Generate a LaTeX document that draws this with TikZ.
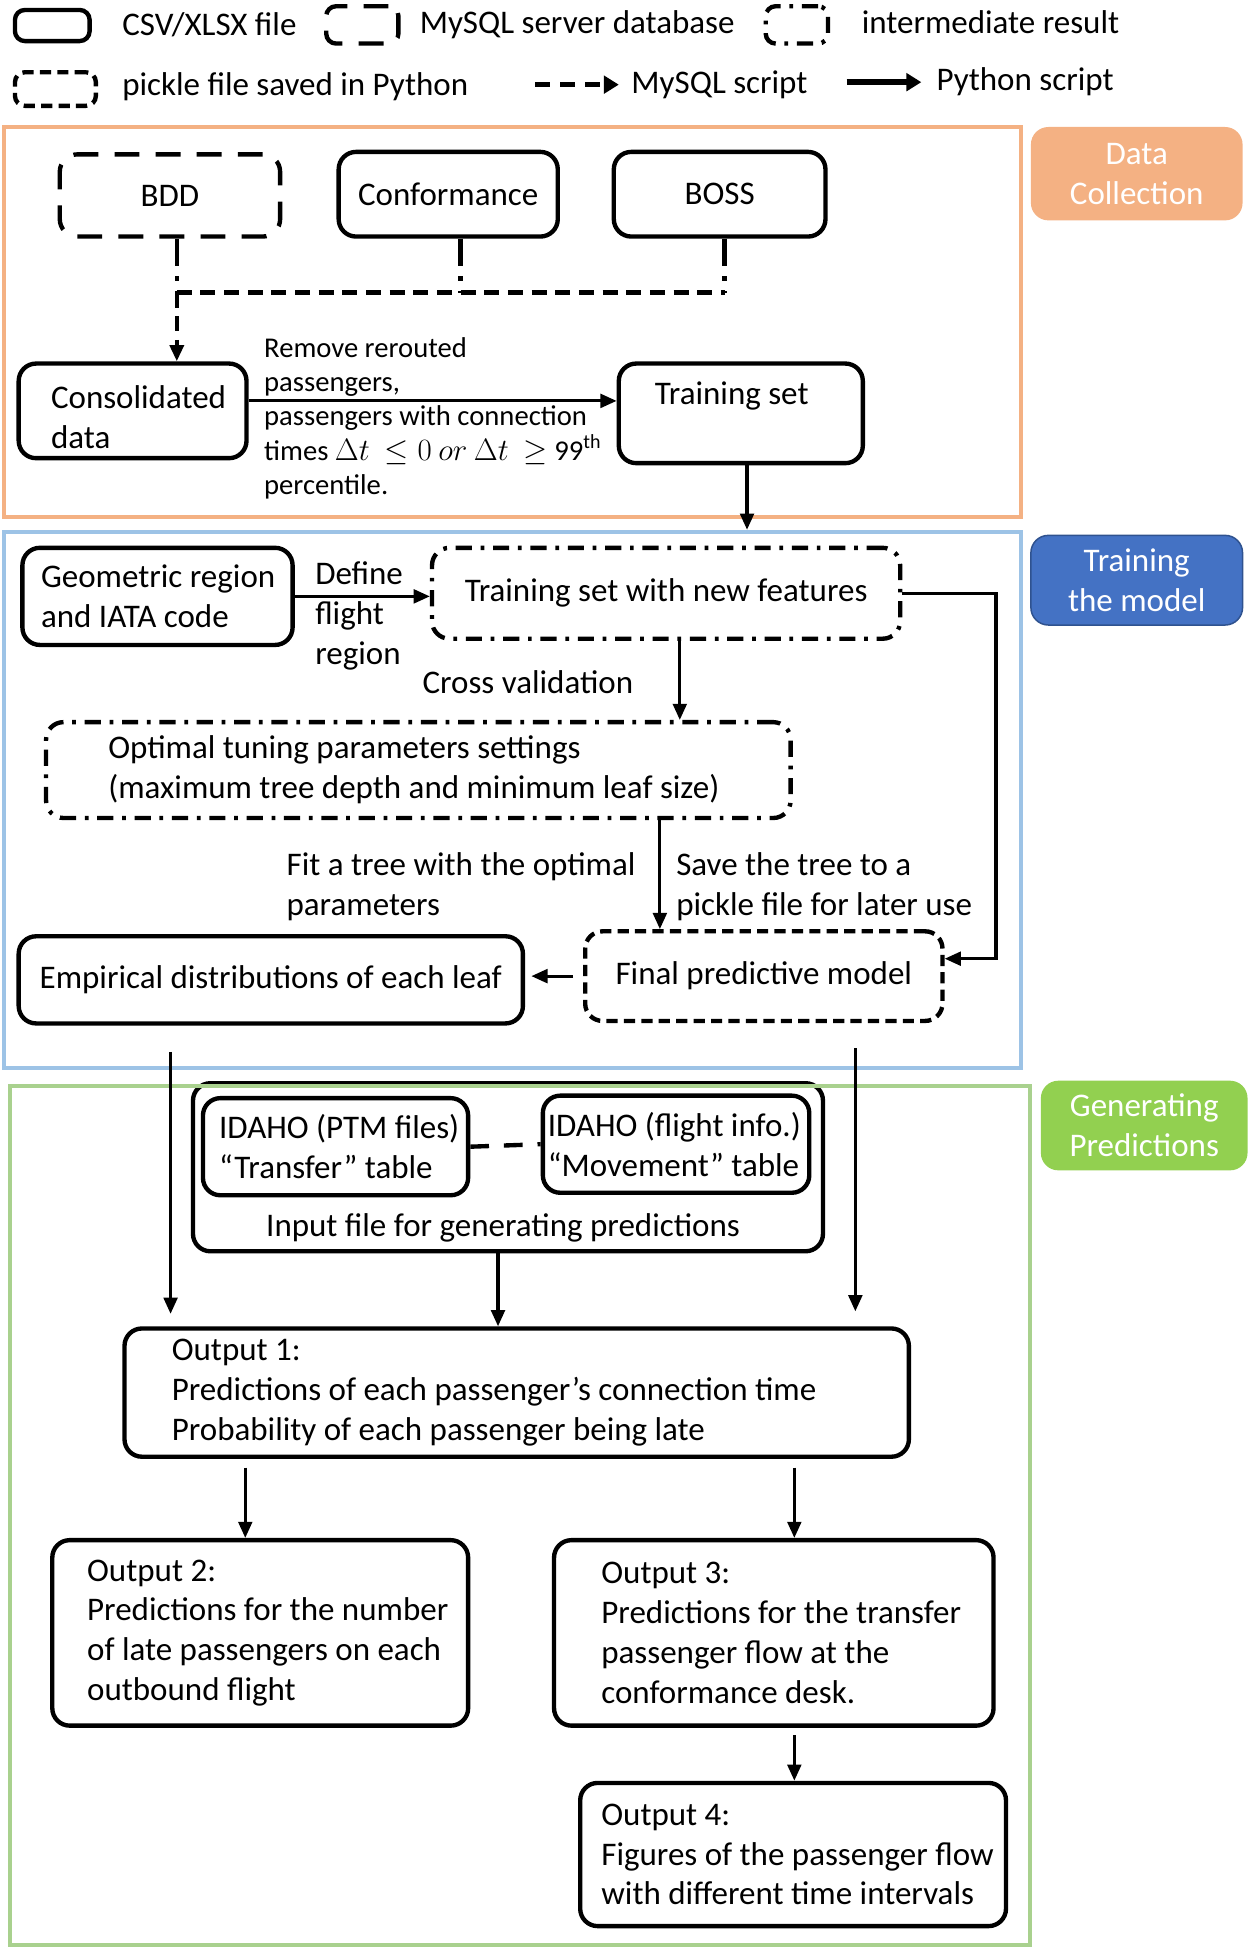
\documentclass[tikz,border=0pt]{standalone}
\usepackage{fontspec}
\setmainfont{Carlito}
\usetikzlibrary{arrows.meta,calc}
\definecolor{dcOrange}{HTML}{F4B183}
\definecolor{trLine}{HTML}{9DC3E6}
\definecolor{trFill}{HTML}{4472C4}
\definecolor{trDark}{HTML}{2F528F}
\definecolor{gnLine}{HTML}{A9D18E}
\definecolor{gnFill}{HTML}{92D050}
\begin{document}
\begin{tikzpicture}[x=1pt,y=-1pt,
  mainfont/.style={font=\fontsize{26.5}{32}\selectfont},
  txt/.style={mainfont, inner sep=0pt, align=left},
  smalltxt/.style={font=\fontsize{23}{27.5}\selectfont, inner sep=0pt, align=left},
  box/.style={draw, line width=3.5pt, rounded corners=14pt, mainfont, inner ysep=0pt},
  csvbox/.style={box},
  sqlbox/.style={box, dash pattern=on 20pt off 13pt},
  interbox/.style={box, dash pattern=on 13pt off 7pt on 3pt off 7pt},
  picklebox/.style={box, dash pattern=on 9pt off 5pt},
  leftbox/.style={align=flush left},
  frame/.style={draw, line width=3pt, inner sep=0pt},
  tag/.style={rounded corners=14pt, text=white, mainfont, align=center, inner sep=0pt},
  pyarrow/.style={line width=2.5pt, -{Triangle[length=13pt,width=11pt]}},
  sqlline/.style={line width=3.5pt, dash pattern=on 12pt off 7pt},
  sqldrop/.style={line width=3.5pt, dash pattern=on 22pt off 8pt on 4pt off 8pt},
  linkdash/.style={line width=3.5pt, dash pattern=on 15pt off 12pt},
  legsql/.style={line width=4.5pt, dash pattern=on 12pt off 8pt, -{Triangle[length=12pt,width=14pt]}},
  legpy/.style={line width=4.5pt, -{Triangle[length=12pt,width=14pt]}}
]
\useasboundingbox (0,0) rectangle (1004,1564.6);

% ---------- legend ----------
\node[csvbox, minimum width=60pt, minimum height=25pt, rounded corners=8pt, inner sep=0pt] (lgcsv) at (42,20.5) {};
\node[txt, anchor=west] (lgcsvt) at (98,20) {CSV/XLSX file};
\node[sqlbox, minimum width=58pt, minimum height=30pt, rounded corners=8pt, inner sep=0pt] (lgsql) at (291,20) {};
\node[txt, anchor=west] (lgsqlt) at (337,20) {MySQL server database};
\node[interbox, minimum width=50pt, minimum height=30pt, rounded corners=8pt, inner sep=0pt] (lgint) at (640,20) {};
\node[txt, anchor=west] (lgintt) at (692,18) {intermediate result};
\node[picklebox, minimum width=65pt, minimum height=27pt, rounded corners=8pt, inner sep=0pt] (lgpk) at (44.5,71.5) {};
\node[txt, anchor=west] (lgpkt) at (98,70) {pickle file saved in Python};
\coordinate (la1) at (430,68); \coordinate (la2) at (497,68);
\draw[legsql] (la1) -- (la2);
\node[txt, anchor=west] (lgmst) at (507,68) {MySQL script};
\coordinate (lb1) at (680,66); \coordinate (lb2) at (740,66);
\draw[legpy] (lb1) -- (lb2);
\node[txt, anchor=west] (lgpst) at (752,66) {Python script};

% ---------- frames and tags ----------
\node[frame, draw=dcOrange, minimum width=817pt, minimum height=313pt] (dcframe) at (411.5,258.5) {};
\node[frame, draw=trLine, minimum width=817pt, minimum height=431pt] (trframe) at (411.5,642.5) {};
\node[tag, fill=dcOrange, minimum width=170pt, minimum height=75pt] (dctag) at (913,139.5) {Data\\Collection};
\node[tag, fill=trFill, draw=trDark, line width=1.2pt, minimum width=170pt, minimum height=72pt] (trtag) at (913,466) {Training\\the model};
\node[tag, fill=gnFill, minimum width=166pt, minimum height=72pt] (gntag) at (919,904) {Generating\\Predictions};

% ---------- data collection ----------
\node[sqlbox, minimum width=177pt, minimum height=66pt] (bdd) at (136.5,157) {BDD};
\node[csvbox, minimum width=176pt, minimum height=68pt] (conf) at (360,156) {Conformance};
\node[csvbox, minimum width=170pt, minimum height=68pt] (boss) at (578,156) {BOSS};
\node[csvbox, leftbox, minimum width=183pt, minimum height=76pt, text width=131pt, inner xsep=26pt] (cons) at (106.5,330) {\mbox{}\\[-4pt]Consolidated\\data};
\node[csvbox, leftbox, minimum width=196pt, minimum height=80pt, text width=138pt, inner xsep=29pt] (train) at (595,332) {\mbox{Training set}\\\mbox{}};

\coordinate (j1) at (142,235);
\coordinate (j2) at (370,235);
\coordinate (j3) at (582,235);
\draw[sqldrop] (bdd.south -| j1) -- (j1);
\draw[sqldrop] (conf.south -| j2) -- (j2);
\draw[sqldrop] (boss.south -| j3) -- (j3);
\draw[sqlline] (j1) -- (j3);
\draw[sqlline, -{Triangle[length=13pt,width=11pt]}] (j1) -- (cons.north -| j1);

\coordinate (a1) at (0,322);
\draw[pyarrow] (cons.east |- a1) -- (train.west |- a1);
\node[smalltxt, anchor=west] (rmlbl) at (212,336) {Remove rerouted\\passengers,\\passengers with connection\\times $\Delta t\ \leq 0\ or\ \Delta t\ \geq\ $99\textsuperscript{th}\\percentile.};

\coordinate (t1) at (600,0);
\draw[pyarrow] (train.south -| t1) -- (trframe.north -| t1);

% ---------- training ----------
\node[csvbox, leftbox, minimum width=217pt, minimum height=78pt, text width=187pt, inner xsep=15pt] (geo) at (126.5,479) {\mbox{Geometric region}\\\mbox{and IATA code}};
\node[interbox, minimum width=376pt, minimum height=73pt] (tnf) at (535,476.5) {Training set with new features};
\node[interbox, leftbox, minimum width=598pt, minimum height=77pt, text width=498pt, inner xsep=50pt] (opt) at (336,618.5) {\mbox{Optimal tuning parameters settings}\\\mbox{(maximum tree depth and minimum leaf size)}};
\node[picklebox, minimum width=287pt, minimum height=72pt] (final) at (613.5,784) {Final predictive model};
\node[csvbox, minimum width=405pt, minimum height=70pt] (emp) at (217.5,787) {Empirical distributions of each leaf};

\draw[pyarrow] (geo.east) -- (geo.east -| tnf.west);
\node[txt, anchor=west] (deflbl) at (253,494.5) {Define\\flight\\region};
\coordinate (t2) at (546,0);
\draw[pyarrow] (tnf.south -| t2) -- (opt.north -| t2);
\node[txt] (cvlbl) at (424,548) {Cross validation};
\coordinate (t3) at (530,0);
\draw[pyarrow] (opt.south -| t3) -- (final.north -| t3);
\node[txt, anchor=west] (fitlbl) at (230,712) {Fit a tree with the optimal\\parameters};
\node[txt, anchor=west] (savelbl) at (543,712) {Save the tree to a\\pickle file for later use};
\coordinate (c1) at (800,770);
\draw[pyarrow] (tnf.east) -| (c1) -- (c1 -| final.east);
\draw[pyarrow, shorten <=8pt, shorten >=5pt] (final.west) -- (final.west -| emp.east);

% ---------- generating predictions ----------
\node[csvbox, minimum width=506pt, minimum height=135pt] (input) at (408,937.5) {};
\node[txt] (inputtxt) at (404,986) {Input file for generating predictions};
\node[frame, draw=gnLine, minimum width=819pt, minimum height=690pt] (gnframe) at (417.5,1217) {};
\node[csvbox, leftbox, minimum width=213pt, minimum height=78pt, text width=187pt, inner xsep=13pt] (idaho1) at (269.5,921) {\mbox{IDAHO (PTM files)}\\\mbox{“Transfer” table}};
\node[csvbox, leftbox, minimum width=214pt, minimum height=78pt, text width=206pt, inner xsep=4pt] (idaho2) at (543,919) {\mbox{IDAHO (flight info.)}\\\mbox{“Movement” table}};
\draw[linkdash] (idaho1.east) -- (idaho2.west);

\node[csvbox, leftbox, minimum width=630pt, minimum height=103pt, text width=554pt, inner xsep=38pt] (out1) at (415,1118.5) {\mbox{Output 1:}\\\mbox{Predictions of each passenger’s connection time}\\\mbox{Probability of each passenger being late}};
\node[csvbox, leftbox, minimum width=334pt, minimum height=149pt, text width=278pt, inner xsep=28pt] (out2) at (209,1311.5) {\mbox{Output 2:}\\\mbox{Predictions for the number}\\\mbox{of late passengers on each}\\\mbox{outbound flight}};
\node[csvbox, leftbox, minimum width=353pt, minimum height=149pt, text width=277pt, inner xsep=38pt] (out3) at (621.5,1311.5) {\mbox{Output 3:}\\\mbox{Predictions for the transfer}\\\mbox{passenger flow at the}\\\mbox{conformance desk.}};
\node[csvbox, leftbox, minimum width=342pt, minimum height=115pt, text width=308pt, inner xsep=17pt] (out4) at (637,1489.5) {\mbox{Output 4:}\\\mbox{Figures of the passenger flow}\\\mbox{with different time intervals}};

\coordinate (d1) at (137,0); \coordinate (d2) at (687,0); \coordinate (d3) at (400,0);
\draw[pyarrow, shorten <=21pt, shorten >=10pt] (emp.south -| d1) -- (out1.north -| d1);
\draw[pyarrow, shorten <=20pt, shorten >=12pt] (final.south -| d2) -- (out1.north -| d2);
\draw[pyarrow] (input.south -| d3) -- (out1.north -| d3);

\coordinate (d4) at (197,0); \coordinate (d5) at (638,0);
\draw[pyarrow, shorten <=7pt] (out1.south -| d4) -- (out2.north -| d4);
\draw[pyarrow, shorten <=7pt] (out1.south -| d5) -- (out3.north -| d5);
\draw[pyarrow, shorten <=6pt] (out3.south -| d5) -- (out4.north -| d5);
\end{tikzpicture}
\end{document}
